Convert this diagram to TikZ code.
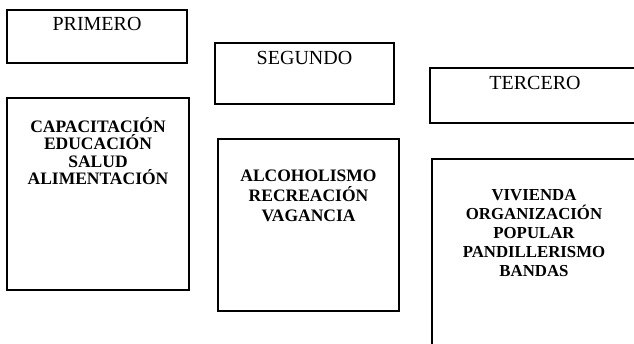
\documentclass[tikz,border=0pt]{standalone}
\usepackage{fontspec}
\setmainfont{Liberation Serif}
\usetikzlibrary{positioning}

\begin{document}
\begin{tikzpicture}[x=1pt,y=-1pt]
	\tikzstyle{caja}=[draw, black, line width=1.3pt, inner sep=0pt]
	\tikzstyle{titulo}=[font=\fontsize{20}{20}\selectfont, inner sep=0pt]
	\tikzstyle{lista}=[font=\bfseries\fontsize{17.5}{17.4}\selectfont, align=center, inner sep=0pt]
	\useasboundingbox (0,0) rectangle (634,343);
	\clip (0,0) rectangle (634,343);
	\node [caja, minimum width=180, minimum height=53] (primero) at (97,36.5) {};
	\node [titulo, below=8pt of primero.north] (tprimero) {PRIMERO};
	\node [caja, minimum width=179, minimum height=61] (segundo) at (304.5,73.5) {};
	\node [titulo, below=9pt of segundo.north] (tsegundo) {SEGUNDO};
	\node [caja, minimum width=210, minimum height=55] (tercero) at (535,95.5) {};
	\node [titulo, below=9pt of tercero.north] (ttercero) {TERCERO};
	\node [caja, minimum width=182, minimum height=192] (capac) at (98,194) {};
	\node [lista, below=20pt of capac.north] (lcapac) {CAPACITACIÓN\\EDUCACIÓN\\SALUD\\ALIMENTACIÓN};
	\node [caja, minimum width=181, minimum height=172] (alcohol) at (308.5,225) {};
	\node [lista, font=\bfseries\fontsize{17.5}{20.3}\selectfont, below=31pt of alcohol.north] (lalcohol) {ALCOHOLISMO\\RECREACIÓN\\VAGANCIA};
	\node [caja, minimum width=218, minimum height=221] (vivienda) at (541,269.5) {};
	\node [lista, font=\bfseries\fontsize{16.8}{19}\selectfont, below=31pt of vivienda.north, xshift=-7pt] (lvivienda) {VIVIENDA\\ORGANIZACIÓN\\POPULAR\\PANDILLERISMO\\BANDAS};
\end{tikzpicture}
\end{document}
